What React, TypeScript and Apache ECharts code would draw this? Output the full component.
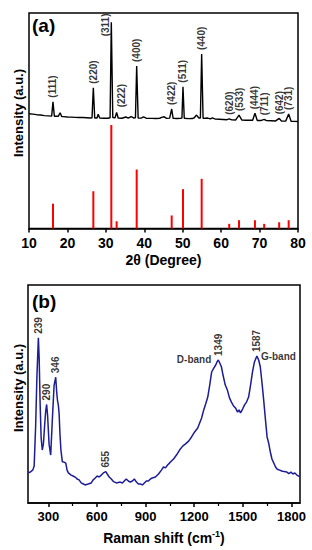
import React, { useEffect, useRef } from "react";
import * as echarts from "echarts";

// ---------- Panel (a): XRD ----------
const xrdTwoTheta = [
  10, 11, 12, 13, 14, 15, 15.9, 16.24, 16.6, 17.6, 18.1, 18.5, 19, 20, 21, 22, 23, 24, 25, 26, 26.4, 26.74, 27.1, 27.7, 28.0,
  28.4, 29.5, 30.5, 31.1, 31.42, 31.8, 32.4, 32.8, 33.2, 34.2, 35.2, 35.8, 36.6, 37.2, 37.7, 38.02, 38.4, 39.2, 39.8,
  40.5, 42, 43, 44, 44.5, 45.2, 45.8, 46.6, 47.13, 47.5, 48.5, 49.5, 49.8, 50.07, 50.4, 51.5, 52.5, 53.0, 53.6, 54.2,
  54.6, 54.93, 55.3, 56.5, 57.2, 57.7, 58.5, 59.5, 60.5, 61.5, 62.1, 62.8, 63.8, 64.65, 65.4, 66.5, 67.5, 68.2, 68.8,
  69.4, 70.3, 71.2, 71.8, 73, 74.2, 75.1, 75.7, 76.8, 77.57, 78.2, 79, 80,
];
const xrdIntensity = [
  5.0, 4.6, 4.0, 3.6, 3.0, 2.8, 2.5, 17.5, 2.4, 2.3, 6.0, 2.1, 2.0, 1.6, 1.5, 1.2, 1.0, 1.0, 0.8, 0.6, 0.7, 32, 0.6, 0.6, 4.4,
  0.5, 0.3, 0.3, 0.8, 100, 1.0, 0.8, 6.4, 0.5, 0.3, 1.6, 0.4, 2.1, 0.6, 0.7, 54.6, 0.6, 0.4, 1.6,
  0.3, 0.2, 0, 0.3, 1.2, 1.8, 0.2, 0.4, 9.9, 0.2, 0.0, 0.3, 0.5, 33.1, 0.3, -0.1, 0, 0.8, 3.6, 0.5,
  0.6, 67, 0.2, 0.5, -0.4, 0.6, -0.6, -0.8, -1.0, -1.2, -0.3, -1.4, -1.5, 3.6, -1.6, -1.8, -1.7, -1.8, 5.4,
  -2.0, -2.1, -0.8, -2.2, -2.3, -2.5, 0.2, -2.6, -2.7, 4.7, -2.9, -3.0, -3.1,
];
const refHkl = ["(111)", "(220)", "(311)", "(222)", "(400)", "(422)", "(511)", "(440)", "(620)", "(533)", "(444)", "(711)", "(642)", "(731)"];
const refTwoTheta = [16.24, 26.74, 31.42, 32.8, 38.02, 47.13, 50.07, 54.93, 62.1, 64.65, 68.8, 71.2, 75.1, 77.57];
const refIntensity = [24, 36, 100, 7, 57, 12.6, 38, 48, 4.5, 8, 8, 4.5, 6, 8];
const xrdTicks = [10, 20, 30, 40, 50, 60, 70, 80];

// ---------- Panel (b): Raman ----------
const ramanShift = [
  176, 190, 205, 213, 222, 230, 239, 244, 250, 256, 263, 270, 278, 284, 290, 296, 305, 315, 325, 336, 346, 352, 357, 362, 367,
  372, 378, 387, 397, 408, 416, 424, 441, 453, 466, 478, 490, 503, 517, 527, 546, 565, 577, 590, 602, 614, 627, 640, 655,
  664, 676, 689, 703, 720, 732, 744, 757, 769, 781, 794, 806, 819, 831, 844, 856, 868, 881, 893, 905, 918, 930, 942, 961,
  980, 998, 1011, 1023, 1036, 1048, 1060, 1073, 1091, 1110, 1129, 1147, 1166, 1184, 1203, 1222, 1234, 1246, 1259, 1271,
  1284, 1296, 1308, 1321, 1333, 1341, 1349, 1358, 1368, 1378, 1392, 1405, 1418, 1430, 1443, 1455, 1468, 1477, 1486, 1499,
  1511, 1523, 1536, 1548, 1560, 1572, 1587, 1598, 1608, 1620, 1629, 1640, 1650, 1660, 1670, 1680, 1692, 1702, 1713, 1728,
  1740, 1755, 1772, 1784, 1797, 1809, 1821, 1834, 1850,
];
const ramanIntensity = [
  13.9, 14.2, 15.2, 17, 35, 58, 75.8, 66, 45, 30, 24.3, 27, 36, 42, 45.2, 40, 27, 22, 38, 54, 57.7, 50.9, 47, 45, 41,
  32, 24.3, 18.9, 18.8, 18.3, 15.1, 13.8, 12.8, 12.4, 11.9, 11, 10.6, 9.2, 8.7, 8.3, 8.7, 9.2, 10.6, 11.5, 12.4, 11.9, 12.8, 13.8, 14.4,
  13.3, 11.9, 11, 9.8, 9.2, 9.4, 9.6, 9.2, 10.1, 11, 10.1, 9.6, 10.1, 11, 9.6, 8.7, 8.7, 8.3, 9.2, 10.1, 10.1, 11, 11.5, 11.9,
  13.3, 15.1, 16.5, 16.1, 17.4, 18.3, 19.3, 20.2, 22, 24.3, 26.1, 27.1, 28.4, 30.3, 32.6, 34.4, 36.7, 39, 42.7, 45.4,
  48.6, 54.1, 60.1, 61.9, 63.3, 64.7, 65.6, 64.2, 62.5, 58.7, 54.1, 51.8, 48.2, 46.3, 44.5, 43.6, 41.7, 42.7, 41.3, 43.1,
  45, 46.3, 48.6, 54.1, 60.1, 64.7, 67.4, 65.6, 62.5, 54.1, 47.2, 38.1, 30.3, 27.4, 23.4, 20.2, 18.2, 16.5, 15.5, 15.1,
  14.7, 14.4, 14.2, 13.5, 14.2, 13.3, 13.8, 12.8, 12.1,
];
const ramanPeaks = [239, 290, 346, 655, 1349, 1587];
const ramanBands = [
  { shift: 1349, name: "D-band", side: "left" },
  { shift: 1587, name: "G-band", side: "right" },
];
const ramanMajorTicks = [300, 600, 900, 1200, 1500, 1800];
const ramanMinorTicks = [450, 750, 1050, 1350, 1650];

const FONT = "'Liberation Sans', Arial, sans-serif";

function heightAt(xs: number[], ys: number[], x: number) {
  let best = 0;
  let bd = Infinity;
  xs.forEach((v, i) => {
    const d = Math.abs(v - x);
    if (d < bd) { bd = d; best = i; }
  });
  return ys[best];
}

// label offsets (style only) for crowded labels
const xrdLabelOffset: Record<string, number[]> = {
  "(311)": [-18, -6],
  "(222)": [1, 5],
};

export default function App() {
  const ref = useRef<HTMLDivElement>(null);
  useEffect(() => {
    if (!ref.current) return;
    const chart = echarts.init(ref.current, undefined, { renderer: "svg" });
    const lbl = { fontFamily: FONT, fontWeight: "bold" as const, color: "#000" };

    const xrdLabelData = refHkl.map((h, i) => ({
      value: [refTwoTheta[i], heightAt(xrdTwoTheta, xrdIntensity, refTwoTheta[i])],
      name: h,
      label: xrdLabelOffset[h] ? { offset: xrdLabelOffset[h] } : undefined,
    }));
    const ramanLabelData = ramanPeaks.map((p) => ({
      value: [p, heightAt(ramanShift, ramanIntensity, p)],
      name: String(p),
    }));

    chart.setOption({
      animation: false,
      backgroundColor: "#fff",
      grid: [
        { left: 29, top: 13, width: 269, height: 215.5, show: true, borderColor: "#000", borderWidth: 1.5, backgroundColor: "transparent" },
        { left: 29, top: 12.7, width: 269, height: 111.6 },
        { left: 29, top: 125, width: 269, height: 103.5 },
        { left: 28, top: 285, width: 272, height: 218, show: true, borderColor: "#000", borderWidth: 1.5, backgroundColor: "transparent" },
      ],
      xAxis: [
        {
          gridIndex: 0, type: "value", min: 10, max: 80, interval: 10,
          axisLine: { show: true, lineStyle: { color: "#000", width: 1.5 } },
          axisTick: { show: true, inside: false, length: 4, lineStyle: { color: "#000", width: 1.5 }, customValues: xrdTicks },
          axisLabel: { ...lbl, fontSize: 14, margin: 7, customValues: xrdTicks, formatter: (v: number) => String(v) },
          splitLine: { show: false },
          name: "2θ (Degree)", nameLocation: "middle", nameGap: 24,
          nameTextStyle: { ...lbl, fontSize: 14 },
        },
        { gridIndex: 1, type: "value", min: 10, max: 80, show: false },
        { gridIndex: 2, type: "value", min: 10, max: 80, show: false },
        {
          gridIndex: 3, type: "value", min: 175, max: 1853,
          axisLine: { show: true, lineStyle: { color: "#000", width: 1.5 } },
          axisTick: { show: true, inside: false, length: 4, lineStyle: { color: "#000", width: 1.5 }, customValues: ramanMajorTicks },
          axisLabel: { ...lbl, fontSize: 13, margin: 7, customValues: ramanMajorTicks, formatter: (v: number) => String(v) },
          splitLine: { show: false },
          name: "Raman shift (cm{sup|-1})", nameLocation: "middle", nameGap: 26,
          nameTextStyle: {
            ...lbl, fontSize: 14,
            rich: { sup: { ...lbl, fontSize: 9, verticalAlign: "top", padding: [0, 0, 8, 0] } },
          },
        },
        {
          gridIndex: 3, type: "value", min: 175, max: 1853, position: "bottom",
          axisLine: { show: false },
          axisTick: { show: true, inside: false, length: 3, lineStyle: { color: "#000", width: 1.2 }, customValues: ramanMinorTicks },
          axisLabel: { show: false },
          splitLine: { show: false },
        },
      ],
      yAxis: [
        { gridIndex: 0, type: "value", min: 0, max: 1, show: false },
        { gridIndex: 1, type: "value", min: -6, max: 110, show: false },
        { gridIndex: 2, type: "value", min: 0, max: 100, show: false },
        { gridIndex: 3, type: "value", min: 0, max: 100, show: false },
      ],
      graphic: [
        { type: "text", left: 32, top: 16, style: { text: "(a)", font: `bold 19px ${FONT}`, fill: "#000" } },
        { type: "text", left: 32, top: 292, style: { text: "(b)", font: `bold 19px ${FONT}`, fill: "#000" } },
        { type: "text", x: 18, y: 113, rotation: Math.PI / 2, style: { text: "Intensity (a.u.)", font: `bold 13px ${FONT}`, fill: "#000", align: "center", verticalAlign: "middle" } },
        { type: "text", x: 18, y: 388, rotation: Math.PI / 2, style: { text: "Intensity (a.u.)", font: `bold 13px ${FONT}`, fill: "#000", align: "center", verticalAlign: "middle" } },
      ],
      series: [
        {
          type: "line", xAxisIndex: 1, yAxisIndex: 1, symbol: "none",
          data: xrdTwoTheta.map((x, i) => [x, xrdIntensity[i]]),
          lineStyle: { color: "#000", width: 1.4 },
        },
        {
          type: "bar", xAxisIndex: 2, yAxisIndex: 2, barWidth: 2,
          data: refTwoTheta.map((x, i) => [x, refIntensity[i]]),
          itemStyle: { color: "#ff0000" },
        },
        {
          type: "scatter", xAxisIndex: 1, yAxisIndex: 1, symbolSize: 0,
          data: xrdLabelData,
          label: {
            show: true, position: "top", distance: 4, rotate: 90, align: "left", verticalAlign: "middle",
            formatter: (p: any) => p.name, ...lbl, fontSize: 10,
          },
        },
        {
          type: "line", xAxisIndex: 3, yAxisIndex: 3, symbol: "none",
          data: ramanShift.map((x, i) => [x, ramanIntensity[i]]),
          lineStyle: { color: "#1c1c96", width: 1.5 },
        },
        {
          type: "scatter", xAxisIndex: 3, yAxisIndex: 3, symbolSize: 0,
          data: ramanLabelData,
          label: {
            show: true, position: "top", distance: 4, rotate: 90, align: "left", verticalAlign: "middle",
            formatter: (p: any) => p.name, ...lbl, fontSize: 10,
          },
        },
        {
          type: "scatter", xAxisIndex: 3, yAxisIndex: 3, symbolSize: 0,
          data: ramanBands.map((b) => ({
            value: [b.shift, heightAt(ramanShift, ramanIntensity, b.shift)],
            name: b.name,
            label: { position: b.side, distance: b.side === "left" ? 7 : 4 },
          })),
          label: { show: true, formatter: (p: any) => p.name, ...lbl, fontSize: 10 },
        },
      ],
    });
    return () => chart.dispose();
  }, []);
  return <div ref={ref} style={{ position: "fixed", left: 0, top: 0, width: 312, height: 550 }} />;
}
